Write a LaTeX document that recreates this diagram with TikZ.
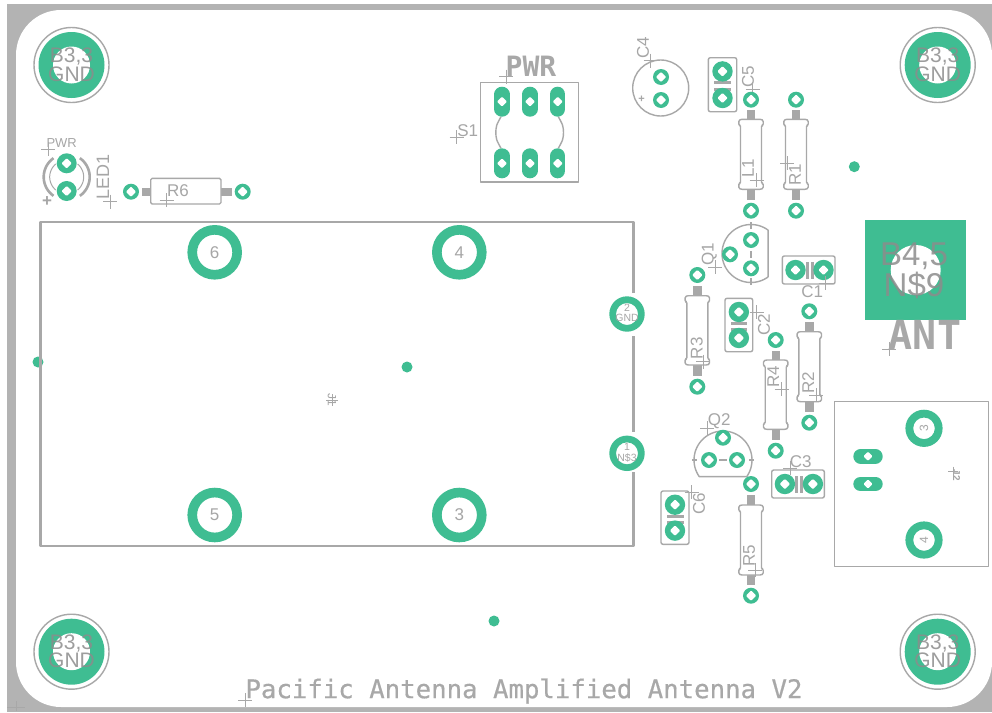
\documentclass[tikz,border=0pt]{standalone}
\usepackage{fontspec}
\setmainfont{Liberation Sans}
\newfontfamily\pcbmono{DejaVu Sans Mono}
\newfontfamily\pcbtitle[FakeBold=0.5]{DejaVu Sans Mono}
\definecolor{padg}{HTML}{3FBD92}
\definecolor{silk}{HTML}{A8A8A8}
\definecolor{edgeg}{HTML}{B3B3B3}
\definecolor{txtg}{HTML}{A6A6A6}
\definecolor{holetxt}{HTML}{8C8C8C}
\tikzset{
  silkline/.style={draw=silk,line width=1.4pt,line join=round},
  tcross/.style={draw=silk,line width=0.7pt},
  lab/.style={text=txtg,inner sep=0pt,anchor=center},
  stem/.style={fill=silk},
}
\newcommand{\pcbfs}[1]{\fontsize{#1}{#1}\selectfont}
\newcommand{\pcblab}[6]{\node[lab,rotate=#5,font=\pcbfs{#4}] (#1) at (#2,#3) {#6};}
\newcommand{\pcbcross}[2]{\draw[tcross] (#1-7,#2)--(#1+7,#2) (#1,#2-7)--(#1,#2+7);}
\newcommand{\pcbpad}[3]{%
  \fill[padg] (#1,#2) circle[radius=#3];
  \fill[white,rounded corners=1pt] (#1+5.2,#2)--(#1,#2+5.2)--(#1-5.2,#2)--(#1,#2-5.2)--cycle;}
\newcommand{\pcbring}[4]{\fill[padg,even odd rule] (#1,#2) circle[radius=#3] circle[radius=#4];}
\newcommand{\pcbvia}[2]{\fill[padg] (#1,#2) circle[radius=5.5];}
% vertical resistor: x, top pad y, bottom pad y, body top, body bottom
\newcommand{\pcbresv}[5]{%
  \fill[stem] (#1-4.2,#2+10.5)rectangle(#1+4.2,#4);
  \fill[stem] (#1-4.2,#5)rectangle(#1+4.2,#3-10.5);
  \draw[silkline,fill=white,rounded corners=1.2pt] (#1-12.2,#4+6)--(#1-12.2,#4+1)--(#1-10,#4)--(#1+10,#4)--(#1+12.2,#4+1)--(#1+12.2,#4+6)--(#1+10.5,#4+6)--(#1+10.5,#5-6)--(#1+12.2,#5-6)--(#1+12.2,#5-1)--(#1+10,#5)--(#1-10,#5)--(#1-12.2,#5-1)--(#1-12.2,#5-6)--(#1-10.5,#5-6)--(#1-10.5,#4+6)--cycle;
  \pcbpad{#1}{#2}{8}\pcbpad{#1}{#3}{8}}
\newcommand{\pcbcapv}[4]{% box x1,y1 x2,y2 : two pads vertical
  \draw[silkline,rounded corners=2pt] (#1,#2) rectangle (#3,#4);
  \fill[silk] (#1+5.5,#2+23.6) rectangle (#3-5.5,#2+26.6);
  \fill[silk] (#1+5.5,#2+29.8) rectangle (#3-5.5,#2+32.8);
  \pcbpad{#1/2+#3/2}{#2+13.7}{10.2}\pcbpad{#1/2+#3/2}{#4-13.7}{10.2}}
\newcommand{\pcbcaph}[4]{%
  \draw[silkline,rounded corners=2pt] (#1,#2) rectangle (#3,#4);
  \fill[silk] (#1+23.2,#2+5.5) rectangle (#1+26.2,#4-5.5);
  \fill[silk] (#1+28.6,#2+5.5) rectangle (#1+31.6,#4-5.5);
  \pcbpad{#1+13.2}{#2/2+#4/2}{10.2}\pcbpad{#1+41.2}{#2/2+#4/2}{10.2}}
\newcommand{\pcbmount}[3]{%
  \draw[silkline] (#1,#2) circle[radius=37.5];
  \fill[padg] (#1,#2) circle[radius=33];
  \fill[white] (#1,#2) circle[radius=18.5];
  \node[text=holetxt,opacity=.85,inner sep=0pt,font=\pcbfs{21}] (#3a) at (#1,#2-8) {B3,3};
  \node[text=holetxt,opacity=.85,inner sep=0pt,font=\pcbfs{21}] (#3b) at (#1,#2+9) {GND};}
\newcommand{\pcbovalh}[2]{%
  \draw[padg,line width=14.6pt,line cap=round] (#1-7.4,#2)--(#1+7.4,#2);
  \fill[white,rounded corners=1pt] (#1+4.6,#2)--(#1,#2+4.6)--(#1-4.6,#2)--(#1,#2-4.6)--cycle;}
\newcommand{\pcbovalv}[2]{%
  \draw[padg,line width=15.2pt,line cap=round] (#1,#2-7.4)--(#1,#2+7.4);
  \fill[white,rounded corners=1pt] (#1+5,#2)--(#1,#2+5)--(#1-5,#2)--(#1,#2-5)--cycle;}
\begin{document}
\begin{tikzpicture}[x=1pt,y=-1pt]
\useasboundingbox (0,0) rectangle (992,712);
% board edge
\fill[white] (0,0) rectangle (992,712);
\fill[edgeg] (7,4) rectangle (992,712);
\fill[white,rounded corners=45pt] (16,10) rectangle (992,707);

% mounting holes
\pcbmount{71.5}{65}{mtl}
\pcbmount{937.7}{65}{mtr}
\pcbmount{71.5}{651.7}{mbl}
\pcbmount{937.7}{651.7}{mbr}

% stray vias
\pcbvia{854.3}{166.7}
\pcbvia{38}{362}
\pcbvia{407}{367}
\pcbvia{494}{621}

% J1 module
\draw[silkline,line width=2.6pt] (633.5,293)--(633.5,222)--(40.5,222)--(40.5,546)--(633.5,546)--(633.5,472);
\draw[silkline,line width=2.6pt] (633.5,336)--(633.5,432);
\pcbring{214.7}{252.3}{27.3}{17.6}
\pcbring{459.3}{252.3}{27.3}{17.6}
\pcbring{214.7}{515}{27.3}{17.6}
\pcbring{459.3}{515}{27.3}{17.6}
\pcbring{627}{314}{17.7}{11}
\pcbring{627}{453.3}{17.7}{11}
\pcblab{j6}{214.7}{252.3}{17}{0}{6}
\pcblab{j4}{459.3}{252.3}{17}{0}{4}
\pcblab{j5}{214.7}{515}{17}{0}{5}
\pcblab{j3}{459.3}{515}{17}{0}{3}
\pcblab{j2n}{627}{307.5}{10.5}{0}{2}
\pcblab{j2g}{627}{318}{10.5}{0}{GND}
\pcblab{j1n}{627}{447}{10.5}{0}{1}
\pcblab{j1g}{627}{458}{10.5}{0}{N\$3}
\pcblab{jone}{332}{400}{12}{-90}{J1}
\draw[draw=silk,line width=0.5pt] (326,400)--(338,400) (332,394)--(332,406);

% S1 switch
\draw[silkline,line width=1.5pt] (480.7,82.7) rectangle (578.7,182);
\draw[silkline] plot[smooth] coordinates {(501,116.7)(496.8,125)(495.8,132.5)(496.8,140)(501,148.3)};
\draw[silkline] plot[smooth] coordinates {(558.3,116.7)(562.5,125)(563.5,132.5)(562.5,140)(558.3,148.3)};
\pcbovalv{502}{101.7}\pcbovalv{530}{101.7}\pcbovalv{557.7}{101.7}
\pcbovalv{502}{163.3}\pcbovalv{530}{163.3}\pcbovalv{557.7}{163.3}
\node[text=silk,inner sep=0pt,font=\pcbmono\bfseries\pcbfs{28}] (pwrb) at (531,66) {PWR};
\pcbcross{506.3}{76.7}
\pcblab{s1}{467.7}{130.7}{17}{0}{S1}
\pcbcross{456.7}{137.3}

% LED1
\draw[silk,line width=2.6pt] plot[domain=125:235,samples=20] ({66.7+23*cos(\x)},{177+23*sin(\x)});
\draw[silk,line width=2.6pt] plot[domain=-55:55,samples=20] ({66.7+23*cos(\x)},{177+23*sin(\x)});
\draw[silk,line width=1pt] plot[domain=130:230,samples=16] ({66.7+17*cos(\x)},{177+17*sin(\x)});
\draw[silk,line width=1pt] plot[domain=-50:50,samples=16] ({66.7+17*cos(\x)},{177+17*sin(\x)});
\pcbpad{66.7}{163.3}{10}\pcbpad{66.7}{191}{10}
\pcblab{ledp}{61.7}{142.7}{13}{0}{PWR}
\pcbcross{48.3}{149.3}
\pcblab{ledplus}{47}{201.7}{17}{0}{\bfseries +}
\pcblab{led}{103}{176.7}{18}{90}{LED1}
\pcbcross{110}{201.7}

% R6
\fill[stem] (141.5,187.5) rectangle (151,195.9);
\fill[stem] (221,187.5) rectangle (232,195.9);
\draw[silkline,fill=white,rounded corners=1.5pt] (150.7,178.3)rectangle(221,204);
\pcbpad{131}{191.7}{8}\pcbpad{242.7}{191.7}{8}
\pcblab{r6}{178}{190.7}{17}{0}{R6}
\pcbcross{166.7}{200}

% C4
\draw[silkline] (660.7,88) circle[radius=28];
\pcbpad{661}{77}{8}\pcbpad{661}{100}{8}
\pcblab{c4plus}{641.7}{99.3}{11}{0}{\bfseries +}
\pcblab{c4}{643}{48}{17}{90}{C4}
\pcbcross{650.7}{60.7}

% C5
\pcbcapv{708.3}{57.7}{736.7}{111.7}
\pcblab{c5}{748}{76.7}{17}{90}{C5}
\pcbcross{752.7}{89.3}

% L1, R1
\pcbresv{751}{99.7}{210.7}{119.3}{189.3}
\pcblab{l1}{748}{168}{17}{90}{L1}
\pcbcross{756.7}{180}
\pcbresv{796}{99.7}{210.7}{119.3}{189.3}
\pcblab{r1}{795}{175}{17}{90}{R1}
\pcbcross{787.3}{163}

% Q1
\draw[silkline] plot[domain=54:306,samples=50] ({751+29*cos(\x)},{253.5+29*sin(\x)}) -- cycle;
\draw[silkline] (751,251)--(751,258) (751,222)--(751,229) (751,278)--(751,285);
\pcbpad{751}{240}{8}\pcbpad{751}{268.3}{8}\pcbpad{730}{254.3}{8}
\pcblab{q1}{709.3}{254}{17}{90}{Q1}
\pcbcross{715}{267.3}

% C1
\pcbcaph{782.3}{256}{835}{284}
\pcblab{c1}{812.3}{291.7}{17}{0}{C1}
\pcbcross{825.7}{283.3}

% square pad, ANT
\fill[padg] (865.3,220) rectangle (965.7,320);
\fill[white] (915.7,270) circle[radius=25];
\node[text=holetxt,opacity=.85,inner sep=0pt,font=\pcbfs{33}] (b45) at (914,256.7) {B4,5};
\node[text=holetxt,opacity=.85,inner sep=0pt,font=\pcbfs{33}] (n9) at (914,285) {N\$9};
\node[text=silk,inner sep=0pt,font=\pcbmono\bfseries\pcbfs{40}] (ant) at (925,335) {ANT};
\pcbcross{889.3}{349.3}

% R3, C2
\pcbresv{697.3}{275}{386.7}{295.7}{365}
\pcblab{r3}{696.7}{348.3}{17}{90}{R3}
\pcbcross{703.3}{361.7}
\pcbcapv{725}{298.3}{752.7}{351.7}
\pcblab{c2}{764}{325}{17}{90}{C2}
\pcbcross{756.7}{312.3}

% R4, R2
\pcbresv{775.7}{340}{450.7}{360}{429.3}
\pcblab{r4}{773.3}{376.7}{17}{90}{R4}
\pcbcross{781.7}{389}
\pcbresv{809.3}{311.3}{422.7}{331.7}{401.7}
\pcblab{r2}{808.3}{383}{17}{90}{R2}
\pcbcross{816}{395}

% Q2
\draw[silkline] plot[domain=145:395,samples=50] ({723+29*cos(\x)},{460+29*sin(\x)}) -- cycle;
\draw[silkline] (719,460)--(727,460) (692,460)--(697,460) (749,460)--(754,460);
\pcbpad{723}{437.7}{8}\pcbpad{709}{460}{8}\pcbpad{737}{460}{8}
\pcblab{q2}{719.3}{421}{17}{0}{Q2}
\pcbcross{707.3}{428.3}

% C3
\pcbcaph{771.7}{470}{824.3}{498}
\pcblab{c3}{800.7}{461.7}{17}{0}{C3}
\pcbcross{790}{468.3}

% R5, C6
\pcbresv{751}{484}{595.7}{505}{575}
\pcblab{r5}{749}{556}{17}{90}{R5}
\pcbcross{755}{570}
\pcbcapv{661}{491}{689}{544.3}
\pcblab{c6}{699}{504}{17}{90}{C6}
\pcbcross{691.7}{492.3}

% J2
\draw[silkline,line width=1.5pt] (834.3,401.3) rectangle (988.3,566.7);
\pcbring{924}{428.3}{18.6}{10.8}
\pcbring{924}{540}{18.6}{10.8}
\pcblab{j23}{924}{428.3}{12}{90}{3}
\pcblab{j24}{924}{540}{12}{90}{4}
\pcbovalh{868}{456.3}\pcbovalh{868}{484}
\pcblab{jtwo}{956.5}{475}{10}{-90}{\bfseries J2}
\draw[tcross] (948,471.7)--(958,471.7) (953,466.7)--(953,476.7);

% title
\node[text=silk,inner sep=0pt,font=\pcbtitle\pcbfs{25.7}] (title) at (524,691) {Pacific Antenna Amplified Antenna V2};
\pcbcross{245}{700}
% origin mark
\draw[tcross] (16,701)--(16,711) (7,707)--(25,707);
\end{tikzpicture}
\end{document}
